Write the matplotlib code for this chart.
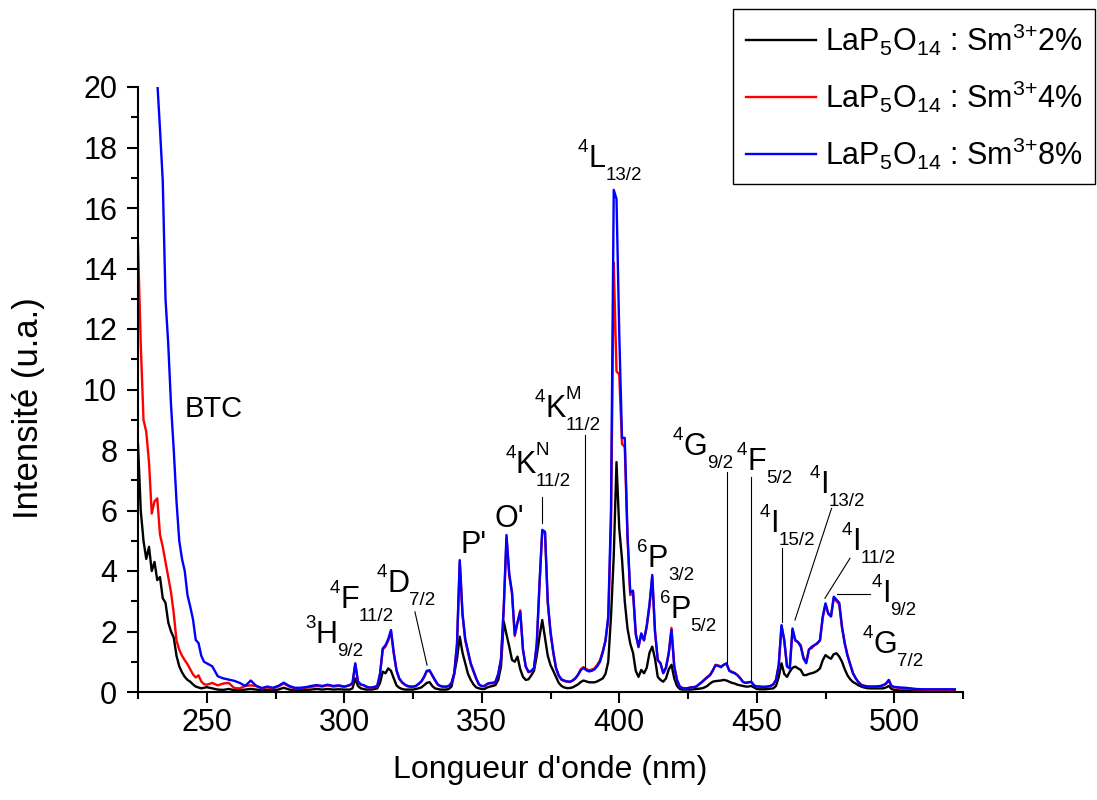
import matplotlib
matplotlib.use("Agg")
import matplotlib.pyplot as plt
from matplotlib.ticker import MultipleLocator
from matplotlib.transforms import offset_copy

plt.rcParams["font.family"] = ["Liberation Sans", "DejaVu Sans"]
plt.rcParams["mathtext.fontset"] = "custom"
plt.rcParams["mathtext.rm"] = "Liberation Sans"
plt.rcParams["mathtext.it"] = "Liberation Sans"
plt.rcParams["mathtext.default"] = "regular"

# wavelength sampling (nm)
wl = list(range(225, 251)) + list(range(252, 301, 2)) + list(range(301, 501)) + list(range(502, 523, 2))

# ---- Sm 2% (black) ----
i2_a = [8.2, 6.0, 5.0, 4.4, 4.8, 4.0, 4.3, 3.7, 3.8, 3.1, 2.95, 2.3, 2.0, 1.8, 1.2, 0.85,
        0.65, 0.5, 0.4, 0.34, 0.25, 0.18, 0.15, 0.12, 0.14, 0.16]
i2_b = [0.12, 0.08, 0.07, 0.1, 0.06, 0.06, 0.08, 0.1, 0.08, 0.06, 0.07, 0.06, 0.08, 0.14,
        0.08, 0.06, 0.06, 0.07, 0.08, 0.1, 0.08, 0.1, 0.08, 0.09, 0.08]
i2_c = [0.08, 0.08, 0.12, 0.45, 0.2, 0.12, 0.1, 0.08, 0.08, 0.08,
        0.1, 0.12, 0.3, 0.67, 0.62, 0.78, 0.7, 0.45, 0.22, 0.14,
        0.1, 0.08, 0.08, 0.08, 0.08, 0.1, 0.12, 0.15, 0.22, 0.3,
        0.33, 0.2, 0.12, 0.1, 0.08, 0.08, 0.08, 0.1, 0.18, 0.6,
        1.1, 1.83, 1.3, 0.95, 0.6, 0.4, 0.25, 0.15, 0.12, 0.1,
        0.1, 0.15, 0.18, 0.2, 0.23, 0.4, 0.84, 2.33, 1.9, 1.5,
        1.06, 1.0, 1.17, 0.75, 0.5, 0.4, 0.42, 0.55, 0.7, 1.2,
        1.83, 2.38, 1.8, 1.2, 0.89, 0.7, 0.5, 0.3, 0.2, 0.15,
        0.13, 0.13, 0.15, 0.2, 0.25, 0.33, 0.38, 0.35, 0.32, 0.32,
        0.32, 0.35, 0.4, 0.45, 0.6, 1.0, 2.5, 4.5, 7.6, 5.4,
        4.4, 3.0, 2.1, 1.6, 1.3, 0.7, 0.5, 0.73, 0.62, 0.8,
        1.3, 1.5, 1.1, 0.5, 0.4, 0.34, 0.45, 0.75, 0.9, 0.45,
        0.2, 0.1, 0.08, 0.08, 0.08, 0.08, 0.09, 0.1, 0.11, 0.12,
        0.15, 0.2, 0.28, 0.34, 0.36, 0.37, 0.38, 0.4, 0.38, 0.34,
        0.3, 0.28, 0.24, 0.22, 0.2, 0.18, 0.18, 0.2, 0.15, 0.1,
        0.09, 0.09, 0.09, 0.1, 0.11, 0.12, 0.2, 0.5, 0.95, 0.6,
        0.5, 0.67, 0.8, 0.84, 0.78, 0.73, 0.56, 0.56, 0.6, 0.62,
        0.65, 0.7, 0.78, 1.05, 1.22, 1.15, 1.1, 1.25, 1.28, 1.17,
        1.0, 0.75, 0.55, 0.42, 0.33, 0.28, 0.22, 0.18, 0.15, 0.13,
        0.12, 0.12, 0.12, 0.12, 0.12, 0.12, 0.15, 0.2, 0.1, 0.07]
i2_d = [0.05, 0.05, 0.04, 0.04, 0.04, 0.04, 0.04, 0.04, 0.04, 0.04, 0.04]

# ---- Sm 4% (red) ----
i4_a = [14.8, 11.5, 9.0, 8.6, 7.6, 5.9, 6.3, 6.4, 5.2, 4.8, 4.3, 3.8, 3.3, 2.6, 1.7, 1.4,
        1.2, 1.05, 0.92, 0.75, 0.58, 0.48, 0.55, 0.35, 0.26, 0.24]
i4_b = [0.3, 0.22, 0.28, 0.3, 0.13, 0.12, 0.2, 0.22, 0.2, 0.12, 0.15, 0.12, 0.18, 0.28,
        0.18, 0.12, 0.12, 0.14, 0.17, 0.2, 0.18, 0.22, 0.18, 0.2, 0.17]
i4_c = [0.2, 0.22, 0.28, 0.92, 0.33, 0.24, 0.22, 0.17, 0.14, 0.14,
        0.16, 0.19, 0.58, 1.4, 1.5, 1.7, 2.0, 1.28, 0.7, 0.43,
        0.31, 0.24, 0.19, 0.17, 0.17, 0.19, 0.26, 0.34, 0.48, 0.68,
        0.7, 0.54, 0.38, 0.24, 0.19, 0.17, 0.17, 0.19, 0.29, 0.6,
        1.55, 4.3, 2.55, 1.7, 1.3, 0.92, 0.68, 0.43, 0.24, 0.19,
        0.19, 0.26, 0.29, 0.29, 0.33, 0.58, 1.05, 2.75, 5.1, 3.85,
        3.25, 1.85, 2.3, 2.7, 1.38, 0.83, 0.65, 0.68, 0.78, 1.55,
        3.5, 5.3, 5.25, 2.95, 1.95, 1.3, 0.78, 0.53, 0.4, 0.36,
        0.34, 0.33, 0.37, 0.44, 0.58, 0.75, 0.82, 0.76, 0.72, 0.74,
        0.78, 0.9, 1.05, 1.35, 1.7, 2.4, 5.5, 14.2, 10.6, 10.5,
        8.2, 8.1, 5.1, 3.2, 3.3, 1.9, 1.48, 1.9, 1.7, 2.15,
        2.85, 3.8, 2.0, 1.05, 0.95, 0.63, 0.82, 1.3, 2.12, 0.85,
        0.4, 0.18, 0.13, 0.12, 0.13, 0.15, 0.16, 0.18, 0.26, 0.33,
        0.42, 0.5, 0.57, 0.72, 0.9, 0.88, 0.84, 0.9, 0.93, 0.72,
        0.67, 0.63, 0.56, 0.46, 0.34, 0.3, 0.32, 0.33, 0.22, 0.18,
        0.18, 0.17, 0.17, 0.18, 0.2, 0.25, 0.4, 0.88, 2.18, 1.7,
        0.85, 0.78, 2.05, 1.7, 1.65, 1.55, 1.15, 1.0, 1.42, 1.45,
        1.55, 1.62, 1.7, 2.45, 2.9, 2.58, 2.5, 3.1, 3.0, 2.9,
        2.12, 1.62, 1.22, 0.92, 0.62, 0.45, 0.33, 0.24, 0.21, 0.19,
        0.18, 0.18, 0.18, 0.18, 0.19, 0.22, 0.27, 0.38, 0.19, 0.16]
i4_d = [0.13, 0.12, 0.1, 0.09, 0.08, 0.07, 0.07, 0.07, 0.07, 0.07, 0.07]

# ---- Sm 8% (blue) ----
i8_a = [30.0, 29.0, 27.5, 26.0, 24.5, 23.0, 21.4, 20.2, 18.6, 16.9, 13.0, 11.5, 9.5, 8.0, 6.3, 5.0,
        4.4, 4.0, 3.2, 2.82, 2.4, 1.72, 1.62, 1.2, 1.0, 0.95]
i8_b = [0.85, 0.52, 0.45, 0.41, 0.37, 0.3, 0.2, 0.38, 0.2, 0.13, 0.18, 0.14, 0.2, 0.31,
        0.2, 0.14, 0.14, 0.16, 0.2, 0.23, 0.2, 0.24, 0.2, 0.22, 0.18]
i8_c = [0.2, 0.23, 0.3, 0.95, 0.35, 0.25, 0.23, 0.18, 0.15, 0.15,
        0.17, 0.2, 0.6, 1.44, 1.55, 1.75, 2.05, 1.3, 0.73, 0.45,
        0.33, 0.25, 0.2, 0.18, 0.18, 0.2, 0.27, 0.35, 0.5, 0.7,
        0.72, 0.56, 0.4, 0.25, 0.2, 0.18, 0.18, 0.2, 0.3, 0.62,
        1.6, 4.36, 2.6, 1.75, 1.35, 0.95, 0.7, 0.45, 0.25, 0.2,
        0.2, 0.27, 0.3, 0.3, 0.34, 0.6, 1.1, 2.8, 5.19, 3.9,
        3.3, 1.9, 2.3, 2.65, 1.4, 0.85, 0.67, 0.7, 0.8, 1.6,
        3.6, 5.36, 5.3, 3.0, 2.0, 1.33, 0.8, 0.55, 0.42, 0.38,
        0.35, 0.34, 0.38, 0.45, 0.56, 0.72, 0.8, 0.72, 0.68, 0.7,
        0.75, 0.85, 1.0, 1.3, 1.7, 2.5, 6.0, 16.6, 16.3, 11.85,
        8.4, 8.4, 5.2, 3.3, 3.35, 1.94, 1.5, 1.94, 1.72, 2.2,
        2.9, 3.87, 2.0, 1.06, 0.95, 0.62, 0.8, 1.28, 2.05, 0.84,
        0.4, 0.18, 0.13, 0.12, 0.13, 0.15, 0.16, 0.18, 0.25, 0.32,
        0.4, 0.48, 0.55, 0.7, 0.88, 0.86, 0.82, 0.9, 0.95, 0.7,
        0.65, 0.62, 0.55, 0.45, 0.33, 0.3, 0.32, 0.34, 0.22, 0.18,
        0.18, 0.17, 0.17, 0.18, 0.2, 0.25, 0.4, 0.9, 2.21, 1.72,
        0.85, 0.78, 2.1, 1.72, 1.65, 1.5, 1.1, 0.95, 1.4, 1.5,
        1.55, 1.6, 1.72, 2.5, 2.93, 2.6, 2.5, 3.15, 3.05, 2.95,
        2.16, 1.6, 1.2, 0.9, 0.62, 0.45, 0.32, 0.23, 0.2, 0.19,
        0.18, 0.18, 0.18, 0.19, 0.2, 0.23, 0.28, 0.4, 0.2, 0.17]
i8_d = [0.15, 0.14, 0.12, 0.1, 0.09, 0.09, 0.09, 0.09, 0.09, 0.09, 0.09]

int_2 = i2_a + i2_b + i2_c + i2_d
int_4 = i4_a + i4_b + i4_c + i4_d
int_8 = i8_a + i8_b + i8_c + i8_d

labels = [r"LaP$_5$O$_{14}$ : Sm$^{3{+}}$2%",
          r"LaP$_5$O$_{14}$ : Sm$^{3{+}}$4%",
          r"LaP$_5$O$_{14}$ : Sm$^{3{+}}$8%"]
colors = ["black", "red", "blue"]

# spectroscopic term labels: (x, y, superscript, letter, subscript, upper index)
terms = [
    (285.7, 1.62, "3", "H", "9/2", ""),
    (294.8, 2.78, "4", "F", "11/2", ""),
    (311.8, 3.31, "4", "D", "7/2", ""),
    (358.5, 7.24, "4", "K", "11/2", "N"),
    (369.4, 9.09, "4", "K", "11/2", "M"),
    (385.0, 17.36, "4", "L", "13/2", ""),
    (406.5, 4.13, "6", "P", "3/2", ""),
    (414.8, 2.45, "6", "P", "5/2", ""),
    (419.5, 7.83, "4", "G", "9/2", ""),
    (442.8, 7.34, "4", "F", "5/2", ""),
    (451.2, 5.29, "4", "I", "15/2", ""),
    (469.4, 6.58, "4", "I", "13/2", ""),
    (481.0, 4.69, "4", "I", "11/2", ""),
    (491.8, 2.98, "4", "I", "9/2", ""),
    (488.6, 1.29, "4", "G", "7/2", ""),
]
plain_labels = [(242.1, 9.09, "BTC"), (342.1, 4.6, "P'"), (354.8, 5.45, "O'")]
leaders = [
    ((325.7, 330.1), (2.65, 0.89)),
    ((371.8, 371.8), (6.45, 5.59)),
    ((387.5, 387.5), (8.5, 0.79)),
    ((439.0, 439.0), (7.28, 0.96)),
    ((447.9, 447.9), (7.12, 0.4)),
    ((459.0, 459.0), (4.76, 2.31)),
    ((477.2, 463.9), (6.07, 2.38)),
    ((483.9, 474.8), (4.42, 3.10)),
    ((479.1, 491.2), (3.24, 3.24)),
]

fig = plt.figure(figsize=(10.97, 8.0), dpi=100)
ax = fig.add_axes([138 / 1097, 108 / 800, 825 / 1097, 605 / 800])

for y, c, lab in zip([int_2, int_4, int_8], colors, labels):
    ax.plot(wl, y, color=c, lw=1.7, label=lab)

ax.set_xlim(225, 525)
ax.set_ylim(0, 20)
ax.xaxis.set_major_locator(MultipleLocator(50))
ax.xaxis.set_minor_locator(MultipleLocator(25))
ax.yaxis.set_major_locator(MultipleLocator(2))
ax.yaxis.set_minor_locator(MultipleLocator(1))
ax.spines["top"].set_visible(False)
ax.spines["right"].set_visible(False)
for s in ("left", "bottom"):
    ax.spines[s].set_linewidth(1.5)
ax.tick_params(which="major", length=8, width=1.5, labelsize=22)
ax.tick_params(axis="y", which="major", pad=7)
ax.tick_params(which="minor", length=5, width=1.5)
ax.set_xlabel("Longueur d'onde (nm)", fontsize=23, labelpad=12)
ax.set_ylabel("Intensité (u.a.)", fontsize=25)
ax.yaxis.set_label_coords(-0.113, 0.47)

# annotations
for xs, ys in leaders:
    ax.plot(xs, ys, color="black", lw=0.8)
for x, y, s in plain_labels:
    ax.text(x, y, s, fontsize=21 if s == "BTC" else 22, ha="left", va="baseline")

renderer = fig.canvas.get_renderer()
pt = fig.dpi / 72.0
big, small = 22, 13.5


def term(x, y, sup, main, sub, upper):
    def put(s, size, dx, dy):
        t = ax.text(x, y, s, fontsize=size, ha="left", va="baseline",
                    transform=offset_copy(ax.transData, fig=fig, x=dx, y=dy, units="dots"))
        return t.get_window_extent(renderer).width

    dx = put(sup, small, 0, 0.5 * big * pt)
    dx += put(main, big, dx, 0)
    put(sub, small, dx, -0.42 * big * pt)
    if upper:
        put(upper, small, dx, 0.6 * big * pt)


for t in terms:
    term(*t)

leg = ax.legend(loc="upper right", bbox_to_anchor=(1095 / 1097, 791 / 800),
                bbox_transform=fig.transFigure, fontsize=22, frameon=True,
                fancybox=False, framealpha=1, edgecolor="black", borderaxespad=0,
                handlelength=2.3, handletextpad=0.3, labelspacing=0.68, borderpad=0.4)
leg.get_frame().set_linewidth(1.0)

fig.savefig("out.png", dpi=100)
